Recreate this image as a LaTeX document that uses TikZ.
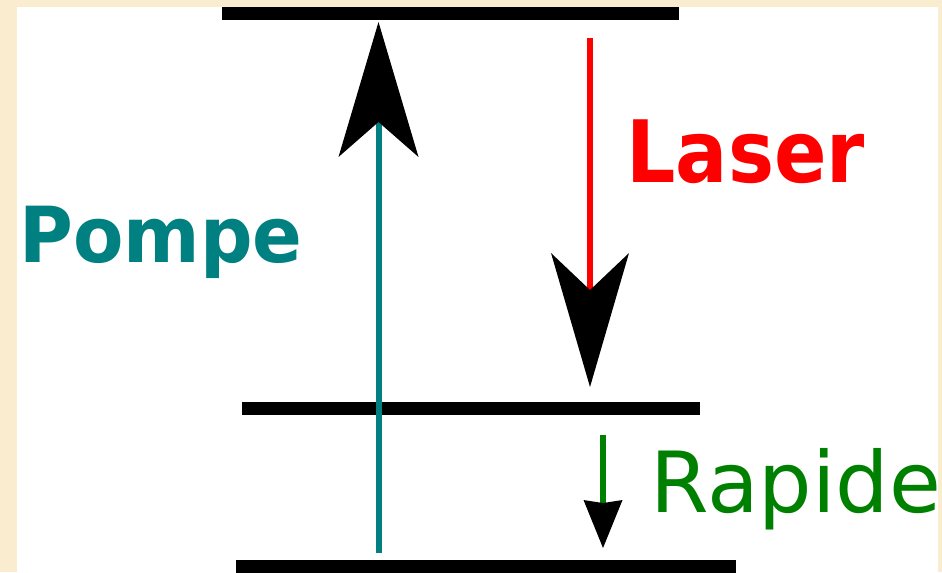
\documentclass[tikz,border=0pt]{standalone}
\usepackage{fontspec}
\setmainfont{DejaVu Sans}
\newfontfamily\pompefont[FakeStretch=0.95]{DejaVu Sans Bold}
\newfontfamily\laserfont[FakeStretch=0.9]{DejaVu Sans Bold}
\usetikzlibrary{arrows.meta}
\definecolor{parchemin}{RGB}{249,236,207}
\definecolor{pompecol}{RGB}{0,128,128}
\definecolor{rapidecol}{RGB}{0,128,0}

\tikzset{
  niveau/.style={line width=0.26cm},
  fleche/.style={line width=0.12cm},
  etiquette/.style={inner sep=0pt, anchor=base west}
}

\begin{document}
\begin{tikzpicture}[x=0.02cm, y=-0.02cm]
  % fond
  \fill[parchemin] (0,0) rectangle (942,572);
  \fill[white] (17,7) rectangle (938,572);
  \useasboundingbox (0,0) rectangle (942,572);

  % niveaux
  \draw[niveau] (222,13.5) -- (679,13.5);
  \draw[niveau] (242,408.5) -- (700,408.5);
  \draw[niveau] (236,566.5) -- (736,566.5);

  % extremites des transitions
  \coordinate (pompe bas) at (378.5,553);
  \coordinate (pompe haut) at (378.5,22);
  \coordinate (laser haut) at (590,38);
  \coordinate (laser bas) at (590,387);
  \coordinate (rapide haut) at (603,435);
  \coordinate (rapide bas) at (603,548);

  % transitions
  \draw[fleche, pompecol, -{Stealth[length=2.7cm, width=1.6cm, inset=0.7cm, line width=0pt, black]}]
    (pompe bas) -- (pompe haut);
  \draw[fleche, red, -{Stealth[length=2.68cm, width=1.56cm, inset=0.74cm, line width=0pt, black]}]
    (laser haut) -- (laser bas);
  \draw[fleche, rapidecol, -{Stealth[length=0.96cm, width=0.78cm, inset=0.06cm, line width=0pt, black]}]
    (rapide haut) -- (rapide bas);

  % textes
  \node[etiquette, pompecol] (pompe) at (19,262) {\pompefont\fontsize{44}{50}\selectfont Pompe};
  \node[etiquette, red] (laser) at (626,182) {\laserfont\fontsize{49}{50}\selectfont Laser};
  \node[etiquette, rapidecol] (rapide) at (650,512) {\fontsize{48}{50}\selectfont Rapide};
\end{tikzpicture}
\end{document}
